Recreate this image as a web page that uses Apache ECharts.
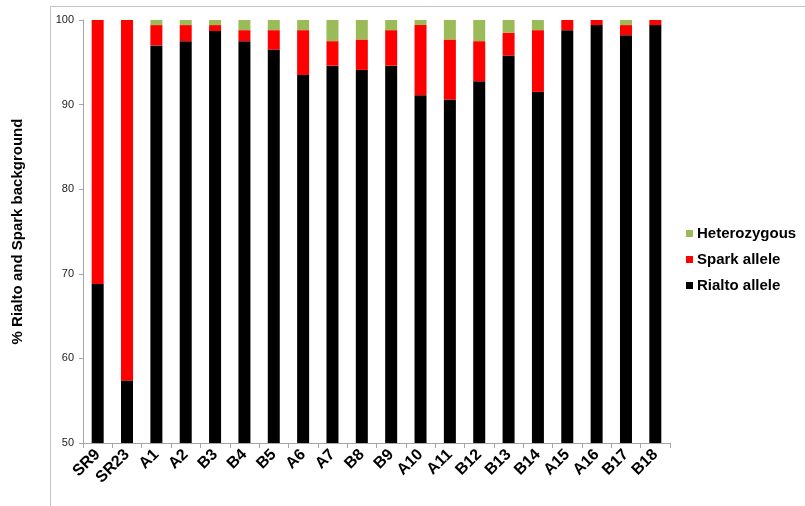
<!DOCTYPE html>
<html><head><meta charset="utf-8">
<script src="https://cdn.jsdelivr.net/npm/echarts@6/dist/echarts.min.js"></script>
<style>html,body{margin:0;padding:0;background:#fff}#c{width:805px;height:506px}</style>
</head><body><div id="c"></div>
<script>
const categories = ['SR9','SR23','A1','A2','B3','B4','B5','A6','A7','B8','B9','A10','A11','B12','B13','B14','A15','A16','B17','B18'];
const rialto = [68.8,57.4,97.0,97.5,98.7,97.5,96.5,93.5,94.6,94.1,94.6,91.1,90.6,92.75,95.8,91.5,98.8,99.4,98.2,99.4];
const spark = [31.2,42.6,2.4,1.9,0.7,1.3,2.3,5.3,2.9,3.6,4.2,8.3,7.1,4.75,2.7,7.3,1.2,0.6,1.2,0.6];
const hetero = [0,0,0.6,0.6,0.6,1.2,1.2,1.2,2.5,2.3,1.2,0.6,2.3,2.5,1.5,1.2,0,0,0.6,0];
const yTicks = {min:50, max:100, interval:10};
const seriesNames = ['Rialto allele','Spark allele','Heterozygous'];

const chart = echarts.init(document.getElementById('c'), null, {renderer:'canvas'});
const font = 'Arial, "Liberation Sans", sans-serif';
const bar = (name, data, color) => ({
  name, type:'bar', stack:'total', data, barWidth:12,
  itemStyle:{color}, emphasis:{disabled:true}
});
chart.setOption({
  animation:false,
  textStyle:{fontFamily:font},
  graphic:[{type:'rect', shape:{x:50.5,y:6.5,width:800,height:600}, style:{fill:'none', stroke:'#c4c4c4', lineWidth:1}, z:-1}],
  grid:{left:83, right:135, top:20, bottom:63},
  legend:{
    orient:'vertical', left:681, top:221,
    data:[seriesNames[2], seriesNames[1], seriesNames[0]],
    itemWidth:7, itemHeight:7, itemGap:11, icon:'rect',
    textStyle:{fontSize:15, fontWeight:'bold', color:'#000', fontFamily:font, padding:[0,0,0,-1]}
  },
  xAxis:{
    type:'category', data:categories,
    axisLine:{lineStyle:{color:'#a6a6a6'}},
    axisTick:{show:true, length:5, lineStyle:{color:'#a6a6a6'}},
    axisLabel:{rotate:45, fontSize:16, fontWeight:'bold', color:'#000', margin:9, interval:0, fontFamily:font}
  },
  yAxis:{
    type:'value', min:yTicks.min, max:yTicks.max, interval:yTicks.interval,
    name:'% Rialto and Spark background', nameLocation:'middle', nameGap:58,
    nameTextStyle:{fontSize:15, fontWeight:'bold', color:'#000', fontFamily:font},
    axisLine:{show:true, lineStyle:{color:'#a6a6a6'}},
    axisTick:{show:true, length:4, lineStyle:{color:'#a6a6a6'}},
    axisLabel:{fontSize:11, color:'#222', margin:9, fontFamily:font},
    splitLine:{show:false}
  },
  series:[
    bar(seriesNames[0], rialto, '#000000'),
    bar(seriesNames[1], spark, '#ff0000'),
    bar(seriesNames[2], hetero, '#9bbb59')
  ]
});
</script></body></html>
